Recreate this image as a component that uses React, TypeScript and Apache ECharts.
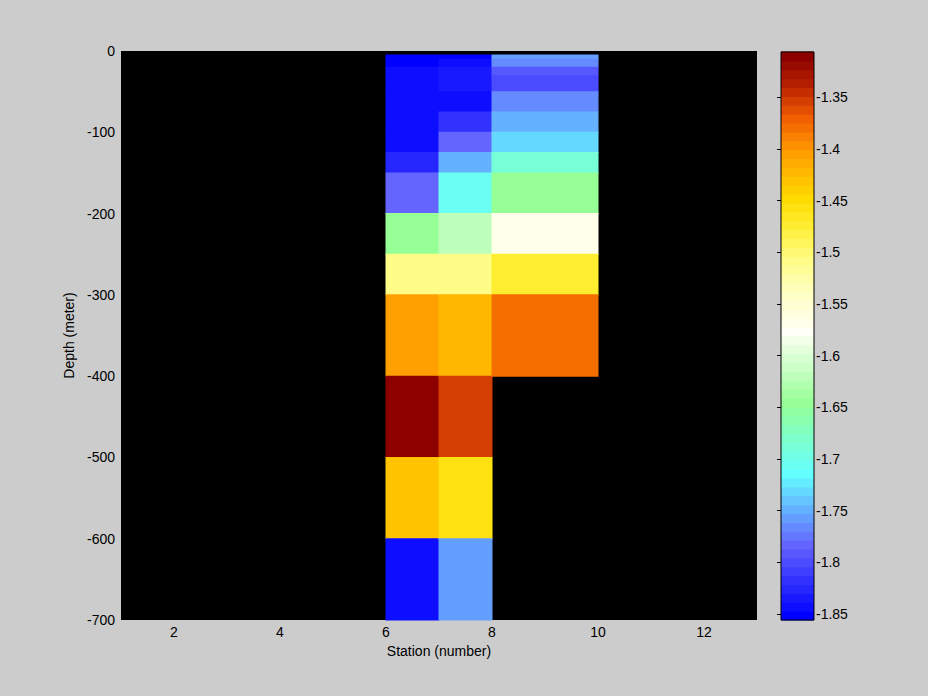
import React, { useEffect, useRef } from "react";
import * as echarts from "echarts";

// ---- data ----
const stationEdges = [6, 7, 8, 10];
const depthEdges = [-5, -10, -20, -30, -50, -75, -100, -125, -150, -200, -250, -300, -400, -500, -600, -700];
// values per depth layer (top to bottom), null = no data
const station6 = [-1.856, -1.852, -1.843, -1.842, -1.844, -1.843, -1.841, -1.826, -1.783, -1.646, -1.508, -1.404, -1.306, -1.430, -1.843];
const station7 = [-1.851, -1.842, -1.834, -1.836, -1.844, -1.817, -1.782, -1.748, -1.706, -1.620, -1.507, -1.421, -1.353, -1.456, -1.757];
const station8 = [-1.758, -1.767, -1.791, -1.800, -1.765, -1.750, -1.732, -1.689, -1.646, -1.568, -1.473, -1.379, null, null, null];
const xTicks = [2, 4, 6, 8, 10, 12];
const colorbarTicks = [-1.85, -1.8, -1.75, -1.7, -1.65, -1.6, -1.55, -1.5, -1.45, -1.4, -1.35];
const colorMin = -1.856;
const colorMax = -1.306;

// ---- colormap (64 levels) ----
const anchors: [number, number[]][] = [
  [0, [0, 0, 255]],
  [8, [100, 100, 255]],
  [16, [100, 255, 255]],
  [24, [150, 255, 150]],
  [32, [255, 255, 245]],
  [36, [255, 255, 200]],
  [40, [255, 252, 135]],
  [44, [255, 237, 50]],
  [47, [255, 218, 0]],
  [52, [255, 160, 0]],
  [56, [242, 95, 0]],
  [60, [180, 30, 0]],
  [63, [140, 0, 0]],
];
const LEVELS = 64;
function buildMap(): string[] {
  const out: string[] = [];
  for (let i = 0; i < LEVELS; i++) {
    let k = 0;
    while (k < anchors.length - 2 && anchors[k + 1][0] < i) k++;
    const [i0, c0] = anchors[k];
    const [i1, c1] = anchors[k + 1];
    const t = i1 === i0 ? 0 : Math.max(0, Math.min(1, (i - i0) / (i1 - i0)));
    const c = c0.map((v, j) => Math.round(v + (c1[j] - v) * t));
    out.push(`rgb(${c[0]},${c[1]},${c[2]})`);
  }
  return out;
}
const cmap = buildMap();
function colorFor(v: number): string {
  let idx = Math.floor(((v - colorMin) / (colorMax - colorMin)) * LEVELS);
  idx = Math.max(0, Math.min(LEVELS - 1, idx));
  return cmap[idx];
}

const FONT = "Liberation Sans";

export default function App() {
  const ref = useRef<HTMLDivElement>(null);
  useEffect(() => {
    if (!ref.current) return;
    const chart = echarts.init(ref.current, undefined, { renderer: "svg" });
    const columns = [station6, station7, station8];
    const cells: number[][] = [];
    columns.forEach((col, c) => {
      col.forEach((v, r) => {
        if (v === null || v === undefined) return;
        cells.push([stationEdges[c], stationEdges[c + 1], depthEdges[r], depthEdges[r + 1], v as number]);
      });
    });
    const step = (colorMax - colorMin) / LEVELS;
    const bands: number[][] = [];
    for (let i = 0; i < LEVELS; i++) bands.push([0, 1, colorMin + i * step, colorMin + (i + 1) * step, i]);

    const labelStyle = { color: "#000", fontSize: 14, fontFamily: FONT };

    chart.setOption({
      animation: false,
      backgroundColor: "#cccccc",
      grid: [
        { left: 121, top: 51, width: 636, height: 569, show: true, backgroundColor: "#000", borderWidth: 0 },
        { left: 781, top: 52, width: 33, height: 568, show: true, backgroundColor: "transparent", borderColor: "#000", borderWidth: 1, z: 5 },
      ],
      xAxis: [
        {
          gridIndex: 0,
          type: "value",
          min: 1,
          max: 13,
          name: "Station (number)",
          nameLocation: "middle",
          nameGap: 23,
          nameTextStyle: labelStyle,
          axisLine: { show: false },
          axisTick: { show: false },
          splitLine: { show: false },
          axisLabel: { ...labelStyle, margin: 5, customValues: xTicks },
        },
        { gridIndex: 1, type: "value", min: 0, max: 1, show: false },
      ],
      yAxis: [
        {
          gridIndex: 0,
          type: "value",
          min: -700,
          max: 0,
          interval: 100,
          name: "Depth (meter)",
          nameLocation: "middle",
          nameGap: 37,
          nameTextStyle: labelStyle,
          axisLine: { show: false },
          axisTick: { show: false },
          splitLine: { show: false },
          axisLabel: { ...labelStyle, margin: 6 },
        },
        {
          gridIndex: 1,
          type: "value",
          min: colorMin,
          max: colorMax,
          position: "right",
          axisLine: { show: false },
          splitLine: { show: false },
          axisTick: { show: true, inside: true, length: 4, lineStyle: { color: "#000" }, customValues: colorbarTicks },
          axisLabel: { ...labelStyle, margin: 2, customValues: colorbarTicks },
        },
        {
          gridIndex: 1,
          type: "value",
          min: colorMin,
          max: colorMax,
          position: "left",
          axisLine: { show: false },
          splitLine: { show: false },
          axisTick: { show: true, inside: true, length: 4, lineStyle: { color: "#000" }, customValues: colorbarTicks },
          axisLabel: { show: false },
        },
      ],
      series: [
        {
          type: "custom",
          xAxisIndex: 0,
          yAxisIndex: 0,
          data: cells,
          encode: { x: [0, 1], y: [2, 3] },
          renderItem: (params: any, api: any) => {
            const p0 = api.coord([api.value(0), api.value(2)]);
            const p1 = api.coord([api.value(1), api.value(3)]);
            const fill = colorFor(api.value(4));
            return {
              type: "rect",
              shape: { x: p0[0] - 0.5, y: p0[1] - 0.5, width: p1[0] - p0[0] + 1, height: p1[1] - p0[1] + 1 },
              style: { fill },
            };
          },
        },
        {
          type: "custom",
          xAxisIndex: 1,
          yAxisIndex: 1,
          data: bands,
          encode: { x: [0, 1], y: [2, 3] },
          z: 1,
          renderItem: (params: any, api: any) => {
            const p0 = api.coord([api.value(0), api.value(3)]);
            const p1 = api.coord([api.value(1), api.value(2)]);
            const fill = cmap[api.value(4)];
            return {
              type: "rect",
              shape: { x: p0[0], y: p0[1] - 0.5, width: p1[0] - p0[0], height: p1[1] - p0[1] + 1 },
              style: { fill },
            };
          },
        },
      ],
    });
    return () => chart.dispose();
  }, []);
  return (
    <div
      ref={ref}
      style={{ position: "fixed", left: 0, top: 0, width: 928, height: 696, background: "#cccccc" }}
    />
  );
}
